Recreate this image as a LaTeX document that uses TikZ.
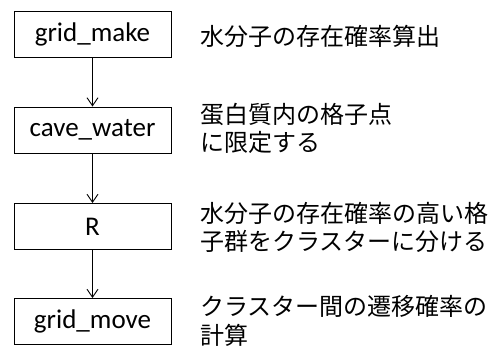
\documentclass[tikz,border=0pt]{standalone}
\usepackage{fontspec}
\setmainfont{Carlito}
\newfontfamily\cjk{Noto Sans CJK JP}
\usetikzlibrary{arrows.meta}
\tikzset{
  stepbox/.style={draw=black, line width=1pt, minimum width=157pt, minimum height=46pt, inner sep=0pt, font=\fontsize{27}{30}\selectfont},
  note/.style={anchor=west, align=left, inner sep=0pt, font=\cjk\fontsize{24}{28.5}\selectfont},
  flow/.style={draw=black, line width=0.8pt, -{Straight Barb[length=8pt,width=11pt,line width=0.9pt]}}
}
\begin{document}
\begin{tikzpicture}[x=1pt,y=-1pt]
\useasboundingbox (0,0) rectangle (495,346);
\node[stepbox] (b1) at (92.5,34.5) {grid\_make};
\node[stepbox] (b2) at (92.5,130) {cave\_water};
\node[stepbox] (b3) at (92.5,226.5) {R};
\node[stepbox] (b4) at (92.5,321.5) {grid\_move};
\draw[flow] (b1) -- (b2);
\draw[flow] (b2) -- (b3);
\draw[flow] (b3) -- (b4);
\node[note] (t1) at (200,36) {水分子の存在確率算出};
\node[note] (t2) at (200,128.5) {蛋白質内の格子点\\に限定する};
\node[note] (t3) at (200,227.5) {水分子の存在確率の高い格\\子群をクラスターに分ける};
\node[note] (t4) at (200,321) {クラスター間の遷移確率の\\計算};
\end{tikzpicture}
\end{document}
